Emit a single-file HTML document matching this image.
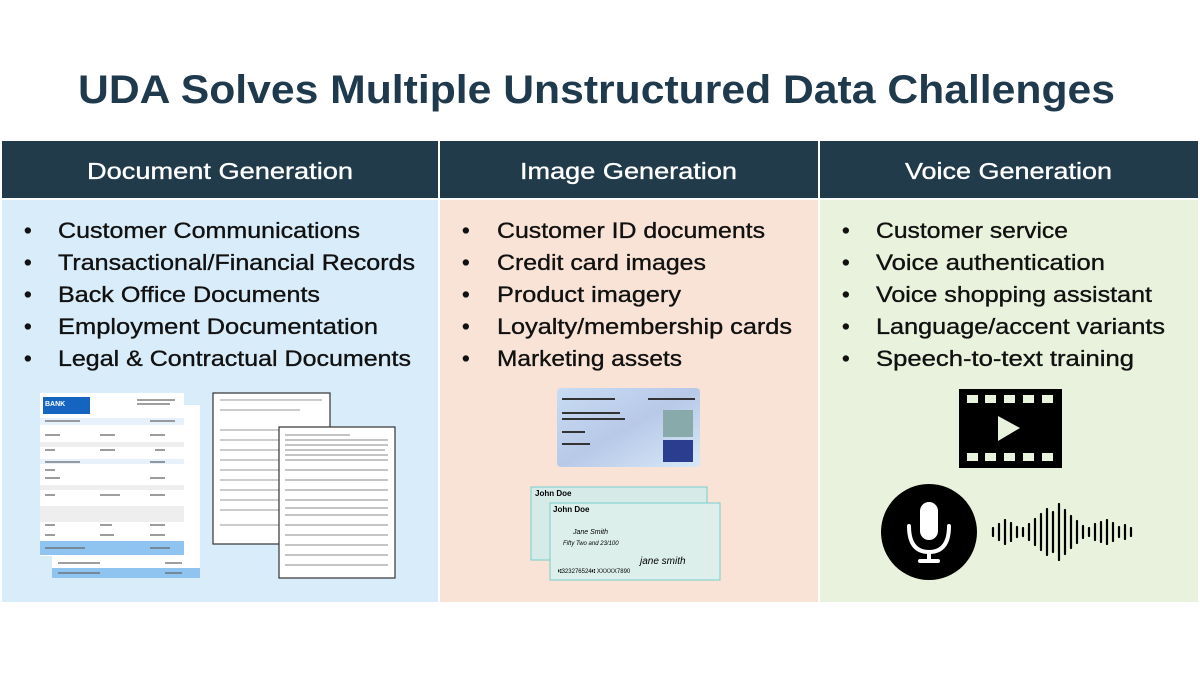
<!DOCTYPE html>
<html><head><meta charset="utf-8"><style>
html,body{margin:0;padding:0;background:#fff}
svg{display:block}
text{font-family:"Liberation Sans",sans-serif}
</style></head><body>
<svg width="1200" height="675" viewBox="0 0 1200 675" xmlns="http://www.w3.org/2000/svg">
<rect width="1200" height="675" fill="#fff"/>
<text x="78" y="103" font-size="40" font-weight="bold" fill="#1f3a4c" textLength="1037" lengthAdjust="spacingAndGlyphs">UDA Solves Multiple Unstructured Data Challenges</text>
<rect x="2" y="141" width="436" height="57" fill="#213b4b"/>
<rect x="440" y="141" width="378" height="57" fill="#213b4b"/>
<rect x="820" y="141" width="378" height="57" fill="#213b4b"/>
<g fill="#fff" stroke="#fff" stroke-width="0.35" font-size="23">
<text x="87" y="179" textLength="266" lengthAdjust="spacingAndGlyphs">Document Generation</text>
<text x="520" y="179" textLength="217" lengthAdjust="spacingAndGlyphs">Image Generation</text>
<text x="905" y="179" textLength="207" lengthAdjust="spacingAndGlyphs">Voice Generation</text>
</g>
<rect x="2" y="200" width="436" height="402" fill="#d9ecf9"/>
<rect x="440" y="200" width="378" height="402" fill="#f9e3d6"/>
<rect x="820" y="200" width="378" height="402" fill="#e9f2dc"/>
<g fill="#111" stroke="#111" stroke-width="0.35" font-size="22">
<g>
<text x="24" y="238">•</text><text x="58" y="238" textLength="302" lengthAdjust="spacingAndGlyphs">Customer Communications</text>
<text x="24" y="270">•</text><text x="58" y="270" textLength="357" lengthAdjust="spacingAndGlyphs">Transactional/Financial Records</text>
<text x="24" y="302">•</text><text x="58" y="302" textLength="262" lengthAdjust="spacingAndGlyphs">Back Office Documents</text>
<text x="24" y="334">•</text><text x="58" y="334" textLength="320" lengthAdjust="spacingAndGlyphs">Employment Documentation</text>
<text x="24" y="366">•</text><text x="58" y="366" textLength="353" lengthAdjust="spacingAndGlyphs">Legal &amp; Contractual Documents</text>
</g>
<g>
<text x="462" y="238">•</text><text x="497" y="238" textLength="268" lengthAdjust="spacingAndGlyphs">Customer ID documents</text>
<text x="462" y="270">•</text><text x="497" y="270" textLength="209" lengthAdjust="spacingAndGlyphs">Credit card images</text>
<text x="462" y="302">•</text><text x="497" y="302" textLength="184" lengthAdjust="spacingAndGlyphs">Product imagery</text>
<text x="462" y="334">•</text><text x="497" y="334" textLength="295" lengthAdjust="spacingAndGlyphs">Loyalty/membership cards</text>
<text x="462" y="366">•</text><text x="497" y="366" textLength="185" lengthAdjust="spacingAndGlyphs">Marketing assets</text>
</g>
<g>
<text x="842" y="238">•</text><text x="876" y="238" textLength="192" lengthAdjust="spacingAndGlyphs">Customer service</text>
<text x="842" y="270">•</text><text x="876" y="270" textLength="229" lengthAdjust="spacingAndGlyphs">Voice authentication</text>
<text x="842" y="302">•</text><text x="876" y="302" textLength="276" lengthAdjust="spacingAndGlyphs">Voice shopping assistant</text>
<text x="842" y="334">•</text><text x="876" y="334" textLength="289" lengthAdjust="spacingAndGlyphs">Language/accent variants</text>
<text x="842" y="366">•</text><text x="876" y="366" textLength="258" lengthAdjust="spacingAndGlyphs">Speech-to-text training</text>
</g>
</g>
<!-- bank statements -->
<rect x="52" y="405" width="148" height="173" fill="#fff"/>
<rect x="40" y="393" width="144" height="163" fill="#fff"/>
<rect x="43" y="397" width="47" height="17" fill="#1565c0"/>
<text x="45" y="406" font-size="7" font-weight="bold" fill="#fff">BANK</text>
<rect x="40" y="418" width="144" height="7" fill="#e6f1fb"/>
<g fill="#eee"><rect x="40" y="442" width="144" height="5"/><rect x="40" y="485" width="144" height="5"/><rect x="40" y="506" width="144" height="16"/></g>
<rect x="40" y="459" width="144" height="5" fill="#e6f1fb"/>
<rect x="40" y="541" width="144" height="14" fill="#90c4f0"/>
<rect x="52" y="568" width="148" height="10" fill="#90c4f0"/>
<g stroke="#666" stroke-width="1.3">
<line x1="137" y1="400" x2="175" y2="400"/><line x1="137" y1="404" x2="170" y2="404"/>
<line x1="45" y1="421" x2="80" y2="421"/><line x1="150" y1="421" x2="175" y2="421"/>
<line x1="45" y1="435" x2="60" y2="435"/><line x1="100" y1="435" x2="115" y2="435"/><line x1="150" y1="435" x2="165" y2="435"/>
<line x1="45" y1="450" x2="55" y2="450"/><line x1="100" y1="450" x2="115" y2="450"/><line x1="155" y1="450" x2="165" y2="450"/>
<line x1="45" y1="462" x2="80" y2="462"/><line x1="150" y1="462" x2="165" y2="462"/>
<line x1="45" y1="470" x2="55" y2="470"/><line x1="45" y1="478" x2="60" y2="478"/><line x1="150" y1="478" x2="165" y2="478"/>
<line x1="45" y1="495" x2="55" y2="495"/><line x1="100" y1="495" x2="120" y2="495"/><line x1="150" y1="495" x2="165" y2="495"/>
<line x1="45" y1="525" x2="55" y2="525"/><line x1="100" y1="525" x2="112" y2="525"/><line x1="150" y1="525" x2="165" y2="525"/>
<line x1="45" y1="535" x2="55" y2="535"/><line x1="100" y1="535" x2="114" y2="535"/><line x1="150" y1="535" x2="165" y2="535"/>
<line x1="45" y1="548" x2="85" y2="548"/><line x1="150" y1="548" x2="170" y2="548"/>
<line x1="58" y1="573" x2="100" y2="573"/><line x1="165" y1="573" x2="182" y2="573"/>
<line x1="58" y1="563" x2="100" y2="563"/><line x1="165" y1="563" x2="182" y2="563"/>
</g>
<!-- forms -->
<rect x="213" y="393" width="117" height="151" fill="#fff" stroke="#333" stroke-width="1.2"/>
<g stroke="#999" stroke-width="1"><line x1="220" y1="400" x2="322" y2="400"/><line x1="220" y1="410" x2="300" y2="410"/><line x1="220" y1="430" x2="322" y2="430"/><line x1="220" y1="440" x2="320" y2="440"/><line x1="220" y1="450" x2="322" y2="450"/><line x1="220" y1="460" x2="320" y2="460"/><line x1="220" y1="470" x2="320" y2="470"/><line x1="220" y1="480" x2="322" y2="480"/><line x1="220" y1="490" x2="322" y2="490"/><line x1="220" y1="500" x2="320" y2="500"/><line x1="220" y1="510" x2="320" y2="510"/><line x1="220" y1="525" x2="320" y2="525"/></g>
<rect x="279" y="427" width="116" height="151" fill="#fff" stroke="#333" stroke-width="1.2"/>
<g stroke="#888" stroke-width="1">
<line x1="285" y1="435" x2="350" y2="435"/><line x1="285" y1="440" x2="388" y2="440"/>
<line x1="285" y1="445" x2="388" y2="445"/><line x1="285" y1="450" x2="385" y2="450"/><line x1="285" y1="455" x2="388" y2="455"/><line x1="285" y1="460" x2="388" y2="460"/>
<line x1="285" y1="470" x2="388" y2="470"/><line x1="285" y1="480" x2="388" y2="480"/><line x1="285" y1="490" x2="388" y2="490"/>
<line x1="285" y1="500" x2="388" y2="500"/><line x1="285" y1="508" x2="388" y2="508"/><line x1="285" y1="515" x2="388" y2="515"/><line x1="285" y1="525" x2="388" y2="525"/>
<line x1="285" y1="535" x2="388" y2="535"/><line x1="285" y1="545" x2="388" y2="545"/><line x1="285" y1="555" x2="388" y2="555"/><line x1="285" y1="565" x2="388" y2="565"/>
</g>
<!-- PAN card -->
<defs><linearGradient id="pg" x1="0" y1="0" x2="1" y2="1"><stop offset="0" stop-color="#c8dcf3"/><stop offset="0.5" stop-color="#b8c9e8"/><stop offset="1" stop-color="#d7e9f7"/></linearGradient></defs>
<rect x="557" y="388" width="143" height="79" rx="4" fill="url(#pg)"/>
<g stroke="#333" stroke-width="2"><line x1="562" y1="399" x2="615" y2="399"/><line x1="648" y1="399" x2="695" y2="399"/><line x1="562" y1="413" x2="620" y2="413"/><line x1="562" y1="419" x2="625" y2="419"/><line x1="562" y1="432" x2="585" y2="432"/><line x1="562" y1="444" x2="590" y2="444"/></g>
<rect x="663" y="410" width="30" height="27" fill="#8aa"/>
<rect x="663" y="440" width="30" height="22" fill="#2a3d8f"/>
<!-- checks -->
<rect x="531" y="487" width="176" height="73" fill="#d6ebe8" stroke="#7cc" stroke-width="1"/>
<rect x="550" y="503" width="170" height="77" fill="#dcefeb" stroke="#7cc" stroke-width="1"/>
<text x="535" y="496" font-size="8" font-weight="bold">John Doe</text>
<text x="553" y="512" font-size="8" font-weight="bold">John Doe</text>
<text x="573" y="534" font-size="7" font-style="italic">Jane Smith</text>
<text x="563" y="545" font-size="6" font-style="italic">Fifty Two and 23/100</text>
<text x="640" y="564" font-size="10" font-style="italic">jane smith</text>
<text x="558" y="573" font-size="6">⑆323276524⑆ XXXXX7890</text>
<!-- film icon -->
<rect x="959" y="389" width="103" height="79" fill="#000"/>
<g fill="#e9f2dc">
<rect x="967" y="395" width="11" height="8"/><rect x="985" y="395" width="11" height="8"/><rect x="1004" y="395" width="11" height="8"/><rect x="1023" y="395" width="11" height="8"/><rect x="1042" y="395" width="11" height="8"/>
<rect x="967" y="453" width="11" height="8"/><rect x="985" y="453" width="11" height="8"/><rect x="1004" y="453" width="11" height="8"/><rect x="1023" y="453" width="11" height="8"/><rect x="1042" y="453" width="11" height="8"/>
<path d="M998 416 L1020 428 L998 441 Z"/>
</g>
<!-- mic -->
<circle cx="929" cy="532" r="48" fill="#000"/>
<rect x="920" y="502" width="18" height="38" rx="9" fill="#fff"/>
<path d="M909 526 Q909 552 929 552 Q949 552 949 526" fill="none" stroke="#fff" stroke-width="4" stroke-linecap="round"/>
<rect x="927" y="552" width="4" height="9" fill="#fff"/>
<rect x="918" y="559" width="22" height="4" rx="2" fill="#fff"/>
<!-- waveform -->
<g stroke="#000" stroke-width="2.2" stroke-linecap="round">
<line x1="993" y1="528" x2="993" y2="536"/><line x1="999" y1="524" x2="999" y2="540"/><line x1="1005" y1="520" x2="1005" y2="544"/><line x1="1011" y1="523" x2="1011" y2="541"/><line x1="1017" y1="527" x2="1017" y2="537"/><line x1="1023" y1="528" x2="1023" y2="536"/><line x1="1029" y1="524" x2="1029" y2="540"/><line x1="1035" y1="519" x2="1035" y2="545"/><line x1="1041" y1="514" x2="1041" y2="550"/><line x1="1047" y1="509" x2="1047" y2="555"/><line x1="1053" y1="512" x2="1053" y2="552"/><line x1="1059" y1="504" x2="1059" y2="560"/><line x1="1065" y1="510" x2="1065" y2="554"/><line x1="1071" y1="516" x2="1071" y2="548"/><line x1="1077" y1="521" x2="1077" y2="543"/><line x1="1083" y1="526" x2="1083" y2="538"/><line x1="1089" y1="528" x2="1089" y2="536"/><line x1="1095" y1="524" x2="1095" y2="540"/><line x1="1101" y1="522" x2="1101" y2="542"/><line x1="1107" y1="520" x2="1107" y2="544"/><line x1="1113" y1="523" x2="1113" y2="541"/><line x1="1119" y1="527" x2="1119" y2="537"/><line x1="1125" y1="525" x2="1125" y2="539"/><line x1="1131" y1="528" x2="1131" y2="536"/>
</g>
</svg>
</body></html>
